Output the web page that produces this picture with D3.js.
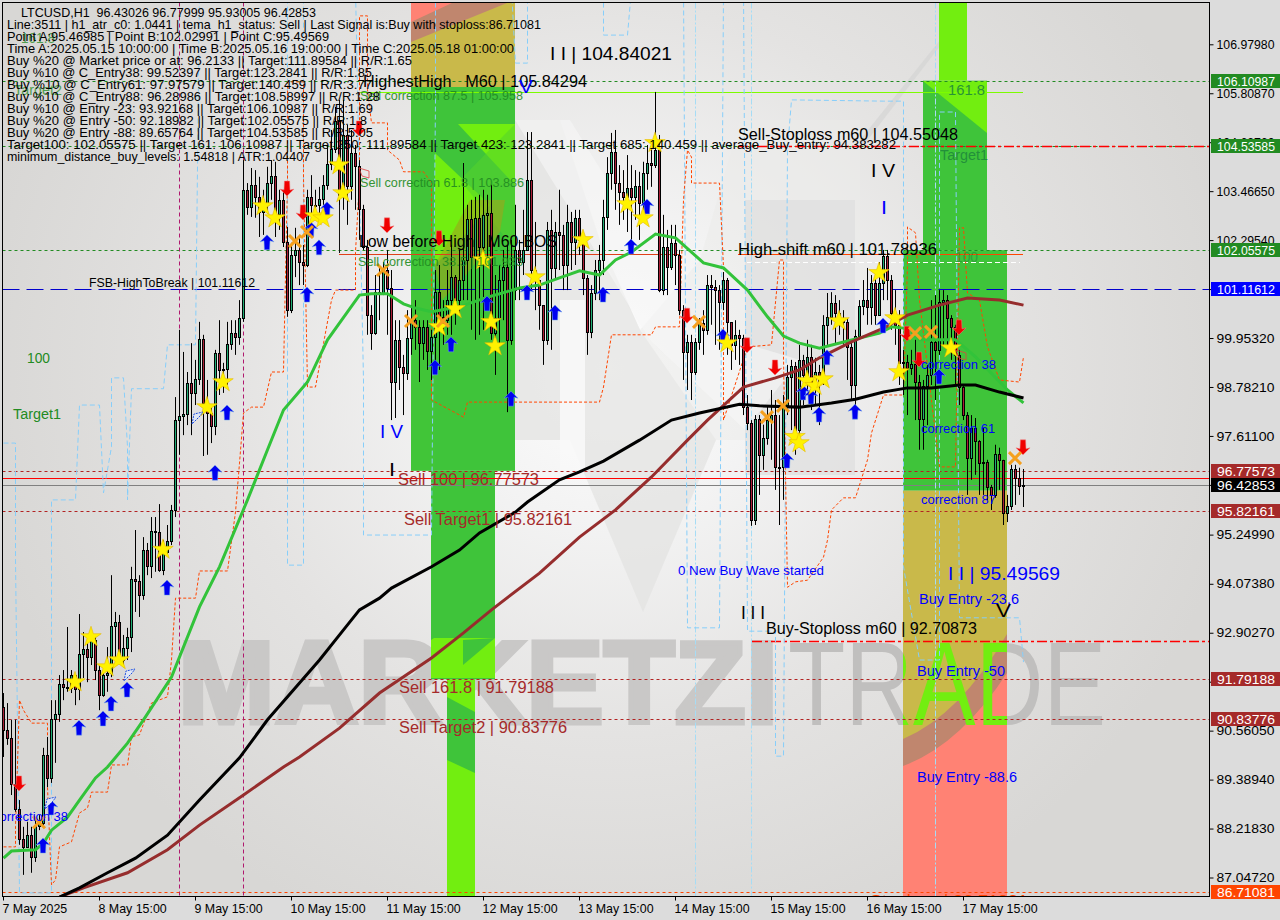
<!DOCTYPE html>
<html><head><meta charset="utf-8">
<style>html,body{margin:0;padding:0;background:#dcdcdc}svg{display:block}text{font-family:"Liberation Sans",Arial,sans-serif;white-space:pre}</style>
<script src="https://cdnjs.cloudflare.com/ajax/libs/d3/7.8.5/d3.min.js"></script></head><body><div id="c"></div>
<script>
const firstOpen = 91.13;
const closes = [90.57,90.38,89.28,88.69,87.97,87.78,88.06,87.54,88.28,88.35,
89.98,89.43,90.84,90.96,91.67,91.60,91.58,91.89,91.55,92.39,
92.51,92.32,92.73,92.01,91.41,91.89,91.94,93.06,93.16,92.25,
92.54,92.80,94.19,94.14,93.81,94.89,94.50,95.34,95.31,94.40,
94.83,95.10,95.84,97.99,98.09,98.14,98.88,98.64,98.97,99.93,
98.40,98.16,97.85,99.60,99.19,99.21,99.81,100.07,99.98,100.43,
103.50,103.09,103.62,103.33,102.97,103.14,103.66,103.83,102.92,103.26,
102.25,100.62,101.94,102.06,101.77,101.70,103.33,103.14,103.14,103.28,
103.62,104.12,104.48,105.15,103.38,104.81,103.59,104.38,104.07,103.04,
102.13,100.50,100.07,101.05,101.03,101.58,101.15,98.90,99.91,99.26,
99.12,99.95,100.38,100.22,99.83,100.22,99.64,99.98,101.05,100.46,
100.38,100.86,101.41,100.86,101.34,101.82,102.80,101.89,102.83,102.13,
102.90,102.94,100.07,100.43,101.34,101.65,99.91,101.10,102.06,101.77,
102.06,103.73,101.58,101.34,100.74,99.91,102.54,101.63,102.49,102.42,
101.70,102.73,102.25,102.83,102.30,101.39,100.10,101.03,101.58,101.82,
102.85,103.90,104.40,103.66,103.45,103.33,103.54,103.33,103.59,103.18,
103.90,104.14,104.09,104.45,101.10,102.13,101.65,102.23,101.94,100.62,
99.62,99.86,99.14,99.86,100.31,100.15,101.22,101.17,101.10,100.81,
101.34,100.34,99.79,100.03,99.95,98.30,97.92,95.60,98.02,97.16,
97.56,97.99,98.11,96.87,96.87,98.35,99.02,99.28,97.75,99.43,
99.07,99.50,98.83,99.14,98.93,100.27,100.46,100.79,100.55,100.38,
100.34,99.74,98.83,100.00,100.72,100.86,100.70,101.27,100.50,101.27,
101.92,101.34,100.55,100.27,99.36,99.38,99.24,99.33,98.90,98.02,
98.81,99.07,99.86,99.67,100.81,100.86,100.43,100.22,99.55,98.78,
98.11,97.08,97.80,97.49,96.96,96.99,96.39,96.20,97.18,97.04,
95.77,95.94,96.82,96.61,96.41,96.43];
const highs = [91.46,91.22,90.82,90.82,88.90,88.26,88.38,88.26,88.42,88.54,
90.15,90.41,91.29,91.29,91.89,92.01,93.04,92.01,91.77,93.35,
92.92,92.80,92.97,92.85,92.13,92.08,92.56,94.28,93.40,93.33,
92.85,93.02,94.48,95.36,94.28,95.19,95.05,95.67,95.67,95.98,
95.12,95.48,95.96,98.54,100.15,99.62,99.14,99.83,99.43,100.34,
100.03,98.95,98.35,99.67,100.38,99.36,100.34,100.38,100.38,100.86,
104.21,103.66,104.02,103.97,103.81,103.50,104.05,104.21,104.17,103.50,
103.50,102.61,102.23,102.59,102.42,102.18,103.50,103.85,103.50,103.57,
103.85,104.57,104.93,105.48,105.22,105.65,105.05,104.93,104.57,104.21,
103.14,102.30,100.74,101.46,101.63,101.77,102.06,101.58,100.38,100.38,
99.55,100.62,100.74,100.86,100.38,100.38,100.38,100.15,101.58,101.70,
100.86,101.58,102.18,101.46,102.06,104.14,103.14,103.26,103.33,103.38,
103.50,103.38,103.62,101.46,101.70,102.06,102.18,102.30,103.14,102.30,
103.02,104.88,104.88,102.73,101.34,100.74,102.73,103.02,102.73,103.50,
102.66,103.14,102.97,103.02,103.02,102.42,101.46,101.22,101.82,102.18,
103.26,104.28,104.86,104.93,104.09,103.97,104.33,104.09,103.97,103.93,
104.17,104.57,104.69,105.84,104.81,102.90,102.54,102.66,102.66,102.06,
100.74,100.03,100.03,99.95,100.43,100.62,101.46,101.46,101.34,101.22,
101.53,101.39,100.27,100.38,100.15,100.03,98.59,97.99,98.11,98.11,
97.88,98.35,98.71,98.47,98.11,98.59,99.31,99.43,99.38,99.79,
99.55,99.91,99.79,99.48,99.31,100.50,101.03,101.05,100.98,100.86,
100.62,100.43,99.91,100.15,100.86,101.34,101.63,101.46,101.53,101.77,
102.06,102.06,101.46,101.10,100.62,99.67,99.55,99.67,99.91,99.07,
98.95,99.31,100.86,100.98,101.10,101.10,100.98,100.50,100.27,99.67,
98.83,98.18,98.11,98.04,97.51,97.80,97.04,96.44,97.40,97.33,
97.04,96.20,96.92,96.92,96.85,96.82];
const lows = [89.93,90.22,89.02,88.62,87.83,87.11,87.76,87.16,87.42,88.18,
88.28,89.21,89.31,89.79,90.77,91.29,91.49,91.46,91.17,91.29,
91.82,91.72,92.13,91.77,91.05,91.37,91.49,91.84,92.25,92.18,
92.08,92.25,92.44,93.40,93.28,93.69,94.28,94.21,94.36,94.36,
94.28,94.76,95.00,95.67,97.16,97.63,97.87,97.63,98.35,98.83,
97.13,97.16,97.44,97.63,98.59,98.64,98.83,99.67,99.55,99.79,
100.34,102.90,102.85,102.83,102.37,102.42,102.94,103.26,102.37,102.54,
102.13,100.46,100.55,101.41,101.22,101.22,101.65,102.66,102.87,102.78,
103.14,103.50,103.97,104.38,103.14,103.02,102.66,103.26,103.02,102.30,
102.06,100.03,99.67,100.03,100.38,100.98,100.03,97.99,98.04,98.71,
98.11,98.95,99.55,99.67,98.90,99.43,99.19,98.95,99.31,99.19,
99.79,100.03,100.03,100.27,100.51,100.86,100.86,100.15,99.91,100.03,
100.15,101.82,99.91,99.07,99.79,100.38,98.18,99.79,100.86,100.86,
101.46,102.18,101.10,100.62,100.15,99.31,99.79,99.67,101.34,101.58,
101.10,101.10,101.58,101.70,101.94,100.98,99.55,99.95,100.86,100.86,
101.46,102.54,103.50,103.02,102.66,102.78,102.49,102.30,102.78,102.30,
103.02,103.50,103.57,104.02,101.05,100.98,100.98,101.58,101.22,100.50,
98.95,98.71,98.47,99.07,99.67,99.55,100.03,100.27,99.79,99.67,
100.62,99.55,99.19,99.43,99.31,98.11,97.75,95.46,95.48,96.20,
96.80,97.40,97.04,96.32,95.48,96.08,98.11,97.75,97.16,97.40,
98.35,98.71,98.23,98.35,97.87,98.83,99.79,100.27,99.79,100.03,
99.79,98.95,98.47,98.35,99.91,100.50,100.27,100.27,100.27,100.62,
100.86,100.86,100.15,99.79,98.83,98.59,98.11,99.07,97.99,97.28,
97.28,97.87,98.83,98.47,99.55,99.79,99.79,99.43,98.83,98.35,
97.99,96.20,96.56,96.68,96.20,96.20,96.08,95.84,96.13,96.32,
95.48,95.55,95.84,95.96,96.20,95.91];

const greenBars = [0,2,8,10,12,16,19,23,26,31,35,42,49,54,61,66,70,76,81,86,89,92,96,100,103,107,114,121,129,134,139,144,149,153,157,163,168,175,180,186,191,195,199,204,211,219,222,225,229,238,243,251,255];
const greenVals = [87.51,87.68,87.71,87.87,88.18,88.49,88.90,89.43,89.69,90.26,90.82,91.84,93.52,94.48,96.08,97.28,98.23,98.90,99.91,100.58,100.98,101.01,101.01,100.77,100.67,100.58,100.70,100.93,101.15,101.22,101.39,101.56,101.46,101.82,102.01,102.44,102.35,101.75,101.63,101.10,100.46,100.00,99.83,99.71,99.88,100.07,100.22,100.19,99.91,99.91,99.50,98.71,98.40];
const blackBars = [14,19,26,33,41,49,59,66,74,79,86,89,94,97,107,114,119,128,131,139,144,150,159,167,174,184,189,199,207,213,220,226,232,239,243,249,255];
const blackVals = [86.58,86.80,87.16,87.51,88.06,88.90,89.91,90.82,91.70,92.25,93.09,93.45,93.73,93.97,94.48,94.88,95.29,95.79,96.03,96.56,96.75,97.01,97.51,97.99,98.16,98.37,98.33,98.30,98.40,98.49,98.66,98.76,98.76,98.83,98.83,98.66,98.52];
const brownBars = [14,20,31,41,49,60,70,74,84,94,107,115,122,134,144,153,162,171,176,185,193,199,204,212,220,226,234,241,249,255];
const brownVals = [86.58,86.80,87.16,87.71,88.30,89.02,89.69,89.93,90.62,91.46,92.30,92.90,93.45,94.33,95.19,95.84,96.63,97.51,97.99,98.78,99.00,99.19,99.48,99.86,100.19,100.50,100.74,100.91,100.86,100.74];

const orangeBars = [0,3,3,4,5,7,11,11,12,13,14,17,19,21,22,26,27,31,32,34,36,37,41,42,43,48,49,56,58,59,60,62,65,67,70,71,71,75,75,76,78,82,83,88,88,89,89,91,91,92,96,96,99,100,105,107,107,115,116,149,150,152,162,163,169,170,171,172,172,179,180,180,186,192,194,195,195,196,198,201,205,206,207,210,213,216,217,220,225,226,226,228,229,234,238,239,240,241,244,246,249,254,255];
const orangeVals = [87.78,87.78,88.26,91.29,91.05,90.74,90.74,89.21,86.87,86.99,87.78,87.90,88.59,88.71,89.09,89.09,89.74,89.74,90.41,90.46,90.98,91.22,91.37,92.25,93.73,93.73,94.38,94.38,95.79,96.96,98.16,98.30,98.30,99.14,99.14,103.73,106.08,106.08,103.78,98.78,98.78,100.86,101.10,101.10,102.01,103.73,107.66,107.66,105.89,105.10,105.10,104.45,104.21,103.93,103.93,103.66,98.47,98.06,98.42,98.42,98.78,100.03,100.03,100.22,100.22,103.26,104.45,104.28,103.66,103.66,101.65,97.99,99.74,99.79,101.82,101.82,99.50,93.99,94.12,94.16,94.71,95.12,95.84,96.13,96.13,97.04,97.68,98.59,98.59,101.70,102.61,102.47,100.86,96.87,96.87,102.59,102.59,101.03,100.86,99.74,98.95,98.90,99.50];
const skyBars = [0,3,3,4,12,12,18,19,24,25,27,27,30,31,31,32,40,41,48,49,71,71,75,75,88,90,90,107,108,108,127,128,131,131,150,150,156,157,170,171,179,180,185,186,193,193,195,196,197,220,225,225,229,234,234,238,239,240,254,255];
const skyVals = [97.44,97.44,94.64,86.68,86.68,96.08,96.08,98.35,98.35,96.25,97.35,99.00,99.00,97.35,96.08,98.74,98.74,99.79,99.79,108.3,108.3,94.52,94.52,108.3,108.3,98.95,95.24,95.24,105.65,108.3,108.3,106.53,106.53,108.3,108.3,107.20,107.20,108.3,108.3,93.02,93.02,108.3,108.3,92.94,92.94,89.95,89.95,104.45,105.65,105.62,105.62,94.48,92.25,92.25,105.36,105.36,93.26,93.26,93.26,92.20];
const paleVerticalBars = [173,187,233];
const magentaVerticalBars = [44,60];

const upBars = [10,12,19,25,27,31,41,53,56,66,76,79,77,81,108,112,121,127,131,138,150,157,161,180,196,200,202,204,206,213,220,234];
const upVals = [87.80,88.71,90.62,90.84,91.20,91.53,93.97,96.72,98.16,102.23,100.98,102.11,102.54,103.02,99.24,99.79,100.77,98.49,101.03,100.55,100.98,102.13,103.09,99.98,97.01,98.64,98.54,98.11,99.48,98.18,100.24,99.02];
const downBars = [4,71,75,89,96,109,171,186,193,226,229,239,255];
const downVals = [89.31,103.54,102.97,104.98,102.66,102.35,100.50,99.79,99.26,100.07,99.45,100.22,97.35];
const starBars = [18,22,26,29,40,51,55,65,68,78,80,84,85,109,113,120,122,123,133,145,156,160,163,181,198,199,201,203,205,209,219,223,224,237];
const starVals = [91.72,92.80,92.08,92.25,94.89,98.30,98.90,103.11,102.82,102.87,102.82,104.09,103.42,100.22,100.65,101.82,100.34,99.76,101.41,102.30,103.16,102.82,104.62,99.83,97.59,97.44,98.93,98.81,98.97,100.36,101.51,100.43,99.14,99.71];
const crossBars = [9,73,76,95,102,110,174,191,195,228,232,253];
const crossVals = [88.37,102.27,102.49,101.58,100.36,100.36,100.34,98.06,98.33,100.07,100.10,97.08];

const priceTicks = [106.9798,105.8087,104.6376,103.4665,102.2954,101.1243,99.9532,98.7821,97.611,96.4399,95.2499,94.0738,92.9027,91.7316,90.5605,89.3894,88.2183,87.0472];
const timeTicks = [0,24,48,72,96,120,144,168,192,216,240];
const timeLabels = ["7 May 2025","8 May 15:00","9 May 15:00","10 May 15:00","11 May 15:00","12 May 15:00","13 May 15:00","14 May 15:00","15 May 15:00","16 May 15:00","17 May 15:00"];
const tagPrices = [106.10987,104.53585,102.05575,101.11612,96.77573,96.42853,95.82161,91.79188,90.83776,86.71081];
const tagColors = ["#228b22","#228b22","#228b22","#0000ff","#a52a2a","#000000","#a52a2a","#a52a2a","#a52a2a","#ff4500"];

const W=1280,H=920,L=2.5,T=2.5,R=1209.5,B=896.5;
const svg=d3.select("#c").append("svg").attr("width",W).attr("height",H);
const x=d3.scaleLinear().domain([0,255]).range([3,1023]);
const y=d3.scaleLinear().domain([87.0472,106.9798]).range([877.5,44.3]);
const defs=svg.append("defs");
const bg=defs.append("radialGradient").attr("id","bg").attr("gradientUnits","userSpaceOnUse").attr("cx",610).attr("cy",370).attr("r",640).attr("gradientTransform","translate(610 370) scale(1 .95) translate(-610 -370)");
[[0,"#fdfdfd"],[.25,"#f3f3f3"],[.6,"#e4e3e2"],[1,"#d8d7d5"]].forEach(s=>bg.append("stop").attr("offset",s[0]).attr("stop-color",s[1]));
defs.append("clipPath").attr("id","plot").append("rect").attr("x",L).attr("y",T).attr("width",R-L).attr("height",B-T);
defs.append("clipPath").attr("id","bandB").append("rect").attr("x",x(225)).attr("y",T).attr("width",x(251)-x(225)).attr("height",B-T);
svg.append("rect").attr("width",W).attr("height",H).attr("fill","#dcdcdc");
const g=svg.append("g").attr("clip-path","url(#plot)");
g.append("rect").attr("x",L).attr("y",T).attr("width",R-L).attr("height",B-T).attr("fill","url(#bg)");

function poly(p,f,o){g.append("polygon").attr("points",p.map(d=>d.join(",")).join(" ")).attr("fill",f).attr("opacity",o==null?1:o);}
// faint logo behind the chart
poly([[340,120],[560,120],[600,240],[640,330],[716,440],[643,612],[570,440],[515,440],[515,120]],"#e3e3e2",.75);
poly([[560,300],[585,300],[585,470],[560,470]],"#f8f8f8",.9);
poly([[600,440],[860,440],[860,120],[740,120],[700,260],[640,330],[600,250]],"#ebebea",.55);
poly([[745,200],[855,200],[855,475],[745,475]],"#dedede",.7);
poly([[515,120],[570,120],[700,330],[800,360],[745,430],[650,340]],"#f7f7f7",.6);
poly([[860,140],[940,40],[960,20],[860,150]],"#d2d2d2",.6);

// big watermark
const wm=g.append("g");
wm.append("text").attr("x",178).attr("y",723).attr("font-size",116).attr("font-weight",700).attr("textLength",600).attr("lengthAdjust","spacingAndGlyphs").attr("fill","#c9c8c7").attr("stroke","#c9c8c7").attr("stroke-width",5).text("MARKETZI");
const tradeAttr=s=>s.attr("x",788).attr("y",725).attr("font-size",118).attr("textLength",318).attr("lengthAdjust","spacingAndGlyphs").text("TRADE");
wm.append("text").call(tradeAttr).attr("fill","#c0bfbe");

// fib bands
const bandGreen="#3fc43a",bandLight="#72ee10",bandOlive="#c9b94a",bandSalmon="#ff8274",bandMauve="#c0866e";
const bandBars=[[102,128],[102,128],[107,123],[111,118],[225,251],[225,251],[230,246],[234,241]];
const bandTops=[108,105.958,96.77573,91.79,102.05575,96.3,106.10987,108];
const bandBots=[105.958,96.77573,91.79,86.4,96.3,86.71,102.05575,106.10987];
const bandFills=[bandOlive,bandGreen,bandGreen,bandLight,bandGreen,bandOlive,bandGreen,bandLight];
bandBars.forEach((b,i)=>g.append("rect").attr("x",x(b[0])).attr("width",x(b[1])-x(b[0])).attr("y",y(bandTops[i])).attr("height",y(bandBots[i])-y(bandTops[i])).attr("fill",bandFills[i]));
// band shading
poly([[411,3],[507,3],[411,42]],bandMauve);
poly([[411,3],[452,3],[411,22]],bandSalmon);
poly([[458,124],[515,124],[515,185]],bandLight);
poly([[435,153],[490,205],[462,238],[435,265]],bandLight);
poly([[515,124],[515,250],[460,180]],"#55d32c",.55);
poly([[470,200],[505,200],[500,232],[462,280],[442,300],[435,265]],"#9ca51a",.6);
poly([[411,88],[435,88],[435,470],[411,470]],"#46c936",.35);
poly([[434,638],[495,638],[495,678],[431,678],[431,640]],bandLight);
poly([[463,640],[495,638],[463,665]],bandGreen);
poly([[447,697],[475,712],[475,773],[447,760]],bandGreen);
poly([[923,81],[987,81],[987,133]],bandLight);
g.append("path").attr("d",`M903,739 Q960,715 1007,634 V896 H903Z`).attr("fill",bandMauve);
g.append("path").attr("d",`M903,766 Q960,745 1007,673 V896 H903Z`).attr("fill",bandSalmon);
// watermark letters seen through band B
g.append("g").attr("clip-path","url(#bandB)").append("text").call(tradeAttr).attr("fill",bandLight);

// horizontal levels
const levelPrices=[106.10987,104.53585,102.05575,96.77573,95.82161,91.79188,90.83776,86.71081];
const levelColors=["#228b22","#228b22","#228b22","#b22222","#b22222","#b22222","#b22222","#ff4500"];
levelPrices.forEach((p,i)=>g.append("line").attr("x1",L).attr("x2",R).attr("y1",Math.round(y(p))+.5).attr("y2",Math.round(y(p))+.5).attr("stroke",levelColors[i]).attr("stroke-dasharray","3,3"));
function hl(p,x1,x2,c,dash,w){g.append("line").attr("x1",x1).attr("x2",x2).attr("y1",Math.round(y(p))+.5).attr("y2",Math.round(y(p))+.5).attr("stroke",c).attr("stroke-width",w||1).attr("stroke-dasharray",dash||null);}
hl(101.11612,L,R,"#0000cd","17,7");
hl(96.6,L,R,"#ff0000");
hl(96.42853,L,R,"#808080");
hl(105.84294,360,1023,"#7cfc00");
hl(104.53585,738,R,"#ff0000","10,3,3,3",1.4);
hl(92.70873,752,R,"#ff0000","10,3,3,3",1.4);
hl(101.97,339,680,"#e0401a");
hl(101.97,738,1023,"#ff4500");
hl(101.78,747,1020,"#ffffff","5,3");
g.append("line").attr("x1",339.5).attr("x2",339.5).attr("y1",100).attr("y2",253).attr("stroke","#111");

// verticals
magentaVerticalBars.forEach(b=>g.append("line").attr("x1",x(b)+.5).attr("x2",x(b)+.5).attr("y1",T).attr("y2",B).attr("stroke","#b0186e").attr("stroke-dasharray","4,3"));
paleVerticalBars.forEach(b=>g.append("line").attr("x1",x(b)+.5).attr("x2",x(b)+.5).attr("y1",T).attr("y2",B).attr("stroke","#a6dcf5").attr("stroke-dasharray","6,2,2,2"));

const ln=d3.line().x(d=>x(d[0])+.5).y(d=>y(d[1]));
const zip=(a,b)=>a.map((v,i)=>[v,b[i]]);
g.append("path").attr("d",ln(zip(skyBars,skyVals))).attr("fill","none").attr("stroke","#87cefa").attr("stroke-dasharray","5,3");
g.append("path").attr("d",ln(zip(orangeBars,orangeVals))).attr("fill","none").attr("stroke","#ff4500").attr("stroke-dasharray","3,2");

// candles
const opens=[firstOpen].concat(closes.slice(0,-1));
const cg=g.append("g");
closes.forEach((c,i)=>{
  const cx=Math.round(x(i));
  cg.append("line").attr("x1",cx+.5).attr("x2",cx+.5).attr("y1",y(highs[i])).attr("y2",y(lows[i])).attr("stroke","#000");
  const t=Math.round(y(Math.max(c,opens[i]))),b=Math.round(y(Math.min(c,opens[i])));
  cg.append("rect").attr("x",cx-.5).attr("width",2).attr("y",t+.5).attr("height",Math.max(1,b-t)).attr("fill",c>=opens[i]?"#1fae74":"#ab1f37").attr("stroke","#000");
});

// moving averages
g.append("path").attr("d",ln(zip(greenBars,greenVals))).attr("fill","none").attr("stroke","#32c33a").attr("stroke-width",3);
g.append("path").attr("d",ln(zip(brownBars,brownVals))).attr("fill","none").attr("stroke","#962d2d").attr("stroke-width",3);
g.append("path").attr("d",ln(zip(blackBars,blackVals))).attr("fill","none").attr("stroke","#000").attr("stroke-width",3);

// markers
const arrow="M0,-8 L7,-1 L3,-2 L2.6,7 L-2.6,7 L-3,-2 L-7,-1Z";
upBars.forEach((b,i)=>g.append("path").attr("d",arrow).attr("transform",`translate(${x(b)},${y(upVals[i])})`).attr("fill","#0000f0").attr("stroke","#6fa8e8").attr("stroke-width",.5));
downBars.forEach((b,i)=>g.append("path").attr("d",arrow).attr("transform",`translate(${x(b)},${y(downVals[i])}) scale(1,-1)`).attr("fill","#f00000").attr("stroke","#f08080").attr("stroke-width",.5));
const star=d3.symbol().type(d3.symbolStar).size(130);
starBars.forEach((b,i)=>g.append("path").attr("d",star()).attr("transform",`translate(${x(b)},${y(starVals[i])})`).attr("fill","#fff200").attr("stroke","#e5b800").attr("stroke-width",.6));
crossBars.forEach((b,i)=>{const X=x(b),Y=y(crossVals[i]);
  g.append("path").attr("d",`M${X-6},${Y-6}L${X+6},${Y+6}M${X+6},${Y-6}L${X-6},${Y+6}`).attr("stroke","#f5a01e").attr("stroke-width",3);});
// small hollow arrows
[[198,418,"#2050e0"],[130,675,"#2050e0"],[51,803,"#2050e0"]].forEach(a=>g.append("path").attr("d","M-6,6L-4,-4L5,-6L2,-2L-2,2Z").attr("transform",`translate(${a[0]},${a[1]})`).attr("fill","#dfe6f5").attr("stroke",a[2]).attr("stroke-dasharray","2,1"));
[[364,173,"#e04040"],[961,355,"#e04040"]].forEach(a=>g.append("path").attr("d","M-5,-5L5,-2L5,5L-2,3Z").attr("fill","none").attr("transform",`translate(${a[0]},${a[1]})`).attr("stroke",a[2]).attr("stroke-width",.8));

// annotations
function tx(s,x0,x1,base,size,col,op){const t=g.append("text").attr("x",x0).attr("y",base).attr("font-size",size).attr("fill",col).text(s);if(x1)t.attr("textLength",x1-x0).attr("lengthAdjust","spacingAndGlyphs");if(op)t.attr("opacity",op);return t;}
const dg="#228b22",br="#a52a2a",bl="#0000ff",bk="#000";
tx("161.8",21,55,43,14,dg,.75);tx("Target2",14,62,95,14,dg,.75);tx("100",27,50,363,14,dg);tx("Target1",13,61,419,14,dg);
tx("161.8",948,985,95,14,"#1f8b3a",.9);tx("Target1",940,988,160,14,"#1f8b3a",.9);tx("100",955,978,262,14,"#1f8b3a",.6);
tx("Sell correction 87.5 | 105.958",360,523,100,12.5,dg,.9);
tx("Sell correction 61.8 | 103.886",360,524,187,12.5,dg,.9);
tx("Sell correction 38.5 | 101.933",358,523,266,12.5,dg,.9);
tx("I I | 104.84021",550,672,60,19,bk);
tx("HighestHigh   M60 | 105.84294",363,587,87,16,bk);
tx("V",519,533,93,19,bl);
tx("Low before High   M60-BOS",359,557,247,16,bk);
tx("FSB-HighToBreak | 101.11612",89,255,287,12.5,bk);
tx("Sell-Stoploss m60 | 104.55048",738,958,140,16,bk);
tx("High-shift m60 | 101.78936",738,937,255,16,bk);
tx("I V",871,895,177,19,bk);tx("I",881,887,214,19,bl);
tx("I V",380,403,438,19,bl);tx("I",389,395,476,19,bk);
tx("correction 38",921,996,369,13.5,bl);tx("correction 61",921,995,433,13.5,bl);tx("correction 87",921,996,504,13.5,bl);
tx("correction 38",-7,68,821,13.5,bl);
tx("I I | 95.49569",948,1060,580,19,bl);
tx("V",996,1011,617,19,bk);
tx("Buy Entry -23.6",919,1019,604,14,bl);tx("Buy Entry -50",917,1005,676,14,bl);tx("Buy Entry -88.6",917,1017,782,14,bl);
tx("Buy-Stoploss m60 | 92.70873",766,977,634,16,bk);
tx("0 New Buy Wave started",678,824,575,13,bl);
tx("I I I",741,765,619,19,bk);
tx("Sell 100 | 96.77573",398,539,485,16,br);tx("Sell Target1 | 95.82161",404,572,525,16,br);
tx("Sell 161.8 | 91.79188",399,554,693,16,br);tx("Sell Target2 | 90.83776",399,567,733,16,br);
tx("Stoploss | 86.71081",870,1028,905,14,"#ff4500");

// info block
const info=[["LTCUSD,H1  96.43026 96.77999 95.93005 96.42853",21,316],
["Line:3511 | h1_atr_c0: 1.0441 | tema_h1_status: Sell | Last Signal is:Buy with stoploss:86.71081",7,541],
["Point A:95.46985 | Point B:102.02991 | Point C:95.49569",7,329],
["Time A:2025.05.15 10:00:00 | Time B:2025.05.16 19:00:00 | Time C:2025.05.18 01:00:00",7,514],
["Buy %20 @ Market price or at: 96.2133 || Target:111.89584 || R/R:1.65",7,412],
["Buy %10 @ C_Entry38: 99.52397 || Target:123.2841 || R/R:1.85",7,372],
["Buy %10 @ C_Entry61: 97.97579 || Target:140.459 || R/R:3.77",7,372],
["Buy %10 @ C_Entry88: 96.28986 || Target:108.58997 || R/R:1.28",7,380],
["Buy %10 @ Entry -23: 93.92168 || Target:106.10987 || R/R:1.69",7,373],
["Buy %20 @ Entry -50: 92.18982 || Target:102.05575 || R/R:1.8",7,367],
["Buy %20 @ Entry -88: 89.65764 || Target:104.53585 || R/R:5.05",7,373],
["Target100: 102.05575 || Target 161: 106.10987 || Target 250: 111.89584 || Target 423: 123.2841 || Target 685: 140.459 || average_Buy_entry: 94.383282",7,896],
["minimum_distance_buy_levels: 1.54818 | ATR:1.04407",7,310]];
info.forEach((l,i)=>tx(l[0],l[1],l[2],16.5+i*12.03,13,"#000"));

// frame and axes
svg.append("rect").attr("x",L).attr("y",T).attr("width",R-L).attr("height",B-T).attr("fill","none").attr("stroke","#000");
const yAxis=d3.axisRight(y).tickValues(priceTicks).tickSize(4).tickPadding(3).tickFormat(d3.format(".5f"));
const ya=svg.append("g").attr("transform",`translate(${R},0)`).call(yAxis);
ya.select(".domain").remove();
ya.selectAll("text").attr("font-size",13).attr("fill","#000").attr("textLength",58).attr("lengthAdjust","spacingAndGlyphs");
const xAxis=d3.axisBottom(x).tickValues(timeTicks).tickSize(4).tickPadding(4).tickFormat((d,i)=>timeLabels[i]);
const xa=svg.append("g").attr("transform",`translate(0,${B})`).call(xAxis);
xa.select(".domain").remove();
xa.selectAll("text").attr("font-size",12.4).attr("fill","#000").attr("text-anchor","start").attr("dx",-1);

// price tags
tagPrices.forEach((p,i)=>{const Y=Math.round(y(p));
  svg.append("rect").attr("x",1211).attr("y",Y-7).attr("width",69).attr("height",14).attr("fill",tagColors[i]);
  svg.append("text").attr("x",1217).attr("y",Y+4.5).attr("font-size",13).attr("textLength",58).attr("lengthAdjust","spacingAndGlyphs").attr("fill","#fff").text(p.toFixed(5));
});
</script></body></html>
